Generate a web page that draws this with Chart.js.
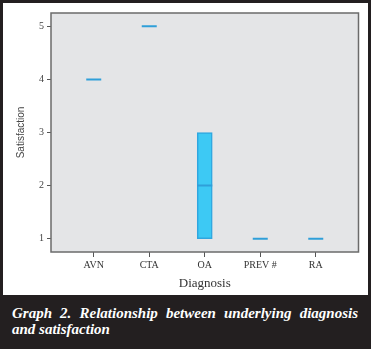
<!DOCTYPE html>
<html>
<head>
<meta charset="utf-8">
<script src="https://cdn.jsdelivr.net/npm/chart.js@4"></script>
<style>
  body { margin: 0; background: #fff; }
  #frame { position: relative; width: 371px; height: 349px; background: #231f20; overflow: hidden; }
  #panel { position: absolute; left: 3px; top: 3px; width: 365px; height: 292px; background: #fff; }
  #caption {
    position: absolute; left: 12px; top: 305px; width: 346px;
    color: #fff; font-family: 'Liberation Serif', serif; font-style: italic; font-weight: bold;
    font-size: 15px; line-height: 16px;
  }
  #caption .full { text-align: justify; text-align-last: justify; }
</style>
</head>
<body>
<div id="frame">
  <div id="panel"><canvas id="chart"></canvas></div>
  <div id="caption"><div class="full">Graph 2. Relationship between underlying diagnosis</div><div>and satisfaction</div></div>
</div>
<script>
// categories and box values
const categories = ['AVN', 'CTA', 'OA', 'PREV #', 'RA'];
const lowerQuartile = [4, 5, 1, 1, 1];
const medianValue = [4, 5, 2, 1, 1];
const upperQuartile = [4, 5, 3, 1, 1];
const yTicks = [1, 2, 3, 4, 5];

// only draw a box where the quartiles differ
const boxData = categories.map((c, i) => ({ x: i, y: [lowerQuartile[i], upperQuartile[i]] }))
    .filter(d => d.y[0] !== d.y[1]);
const medianData = categories.map((c, i) => ({ x: i, y: medianValue[i] }));

// grey plot background with a frame around it
const plotFrame = {
    id: 'plotFrame',
    beforeDatasetsDraw(chart) {
        const a = chart.chartArea;
        const ctx = chart.ctx;
        ctx.save();
        ctx.fillStyle = '#e4e5e7';
        ctx.fillRect(a.left, a.top, a.right - a.left, a.bottom - a.top);
        ctx.restore();
    },
    afterDatasetsDraw(chart) {
        const a = chart.chartArea;
        const ctx = chart.ctx;
        ctx.save();
        ctx.strokeStyle = '#6b6b6b';
        ctx.lineWidth = 1.5;
        ctx.strokeRect(a.left, a.top, a.right - a.left, a.bottom - a.top);
        ctx.restore();
    }
};

new Chart(document.getElementById('chart').getContext('2d'), {
    type: 'bar',
    data: {
        datasets: [
            {
                type: 'bar',
                data: boxData,
                backgroundColor: '#3dc9f4',
                borderColor: '#2fa6df',
                borderWidth: 1.5,
                borderSkipped: false,
                barThickness: 15,
                order: 1,
            },
            {
                type: 'scatter',
                data: medianData,
                pointStyle: 'line',
                radius: 7.5,
                hoverRadius: 7.5,
                borderColor: '#2f9fd9',
                borderWidth: 2,
                order: 0,
            },
        ],
    },
    options: {
        responsive: true,
        maintainAspectRatio: false,
        animation: false,
        layout: { padding: { top: 10, right: 8, left: 8, bottom: 0 } },
        plugins: { legend: { display: false }, tooltip: { enabled: false } },
        scales: {
            x: {
                type: 'linear',
                offset: false,
                min: -0.77,
                max: 4.77,
                afterBuildTicks: (s) => { s.ticks = categories.map((c, i) => ({ value: i })); },
                afterFit: (s) => { s.height = 43; },
                ticks: {
                    callback: (v) => categories[v],
                    color: '#333',
                    font: { family: 'Liberation Serif', size: 10 },
                    padding: 2,
                    maxRotation: 0,
                },
                grid: { offset: false, drawOnChartArea: false, tickLength: 5, color: '#555' },
                border: { display: false },
                title: {
                    display: true,
                    text: 'Diagnosis',
                    color: '#333',
                    font: { family: 'Liberation Serif', size: 13 },
                    padding: { top: 0 },
                },
            },
            y: {
                min: 0.75,
                max: 5.25,
                afterBuildTicks: (s) => { s.ticks = yTicks.map(v => ({ value: v })); },
                afterFit: (s) => { s.width = 40; },
                ticks: {
                    color: '#444',
                    font: { family: 'Liberation Serif', size: 10 },
                    padding: 3,
                },
                grid: { drawOnChartArea: false, tickLength: 4, color: '#555' },
                border: { display: false },
                title: {
                    display: true,
                    text: 'Satisfaction',
                    color: '#444',
                    font: { family: 'Liberation Sans', size: 10 },
                    padding: { bottom: 4 },
                },
            },
        },
    },
    plugins: [plotFrame],
});
</script>
</body>
</html>
